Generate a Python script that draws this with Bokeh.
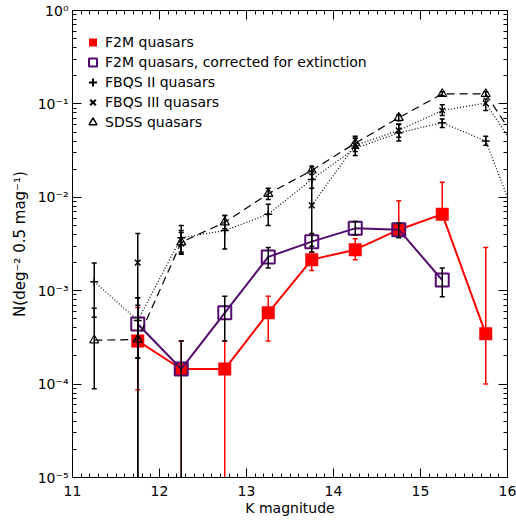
import math
from bokeh.plotting import figure
from bokeh.models import (ColumnDataSource, FixedTicker, LinearAxis, LogAxis, Legend,
                          LegendItem, CustomJSTickFormatter, Range1d)
from bokeh.embed import file_html
from bokeh.resources import INLINE

# ---------------- data ----------------
# F2M quasars (red filled squares); lo == 0 means the error bar runs to zero
f2m_k  = [11.75, 12.25, 12.75, 13.25, 13.75, 14.25, 14.75, 15.25, 15.75]
f2m_n  = [2.9e-4, 1.45e-4, 1.45e-4, 5.8e-4, 2.15e-3, 2.75e-3, 4.5e-3, 6.6e-3, 3.45e-4]
f2m_lo = [8.7e-5, 0, 0, 2.9e-4, 1.65e-3, 2.15e-3, 4.1e-3, 6.1e-3, 1.0e-4]
f2m_hi = [6.6e-4, 2.9e-4, 2.9e-4, 8.7e-4, 2.6e-3, 3.6e-3, 9.2e-3, 1.45e-2, 2.9e-3]

# F2M quasars corrected for extinction (purple open squares)
f2mc_k  = [11.75, 12.25, 12.75, 13.25, 13.75, 14.25, 14.75, 15.25]
f2mc_n  = [4.4e-4, 1.45e-4, 5.8e-4, 2.3e-3, 3.35e-3, 4.65e-3, 4.5e-3, 1.3e-3]
f2mc_lo = [1.9e-4, 0, 2.9e-4, 1.75e-3, 2.6e-3, 3.95e-3, 3.7e-3, 8.6e-4]
f2mc_hi = [8.4e-4, 2.9e-4, 8.7e-4, 2.9e-3, 4.1e-3, 5.5e-3, 5.3e-3, 1.75e-3]

# FBQS II quasars (+, dotted)
fb2_k  = [11.25, 11.75, 12.25, 12.75, 13.25, 13.75, 14.25, 14.75, 15.25, 15.75, 16.25]
fb2_n  = [1.25e-3, 4.8e-4, 3.7e-3, 4.4e-3, 6.6e-3, 1.55e-2, 3.35e-2, 4.9e-2, 6.3e-2, 4.0e-2, 2.5e-3]
fb2_lo = [5.2e-4, 1.9e-4, 2.5e-3, 2.8e-3, 5.0e-3, 1.25e-2, 2.8e-2, 4.0e-2, 5.6e-2, 3.6e-2, 2.0e-3]
fb2_hi = [1.98e-3, 8.4e-4, 5.0e-3, 6.4e-3, 8.4e-3, 1.9e-2, 4.5e-2, 6.1e-2, 6.9e-2, 4.5e-2, 3.0e-3]

# FBQS III quasars (x, dotted); the dotted line only joins the bins from 13.75 on
fb3_k  = [11.75, 12.25, 13.75, 14.25, 14.75, 15.25, 15.75, 16.25]
fb3_n  = [2.0e-3, 3.2e-3, 8.2e-3, 3.6e-2, 5.2e-2, 8.5e-2, 1.02e-1, 2.0e-2]
fb3_lo = [0, 2.6e-3, 3.0e-3, 3.1e-2, 4.4e-2, 7.5e-2, 8.5e-2, 1.6e-2]
fb3_hi = [4.1e-3, 4.2e-3, 1.9e-2, 4.3e-2, 6.0e-2, 9.8e-2, 1.13e-1, 2.4e-2]
fb3_line_from = 13.75

# SDSS quasars (open triangles, dashed)
sdss_k  = [11.25, 11.75, 12.25, 12.75, 13.25, 13.75, 14.25, 14.75, 15.25, 15.75, 16.25]
sdss_n  = [2.95e-4, 3.0e-4, 3.3e-3, 5.4e-3, 1.09e-2, 1.94e-2, 3.8e-2, 7.1e-2, 1.28e-1, 1.28e-1, 2.5e-2]
sdss_lo = [8.9e-5, 0, 2.45e-3, 4.6e-3, 9.5e-3, 1.75e-2, 3.5e-2, 6.6e-2, 1.22e-1, 1.2e-1, 2.2e-2]
sdss_hi = [6.5e-4, 7.0e-4, 4.4e-3, 6.4e-3, 1.25e-2, 2.15e-2, 4.3e-2, 7.6e-2, 1.35e-1, 1.35e-1, 2.8e-2]

x_ticks = [11, 12, 13, 14, 15, 16]
y_decades = [-5, -4, -3, -2, -1, 0]

RED = "#ff0000"
PURPLE = "#520a6e"
FONT = "DejaVu Sans"
ZERO = 1e-12  # stand-in for an error bar that runs down to zero on a log axis

p = figure(width=516, height=521, x_range=Range1d(11, 16), y_range=Range1d(1e-5, 1),
           y_axis_type="log", output_backend="svg", toolbar_location=None,
           min_border_left=72, min_border_right=9, min_border_top=10, min_border_bottom=44,
           background_fill_color="white", border_fill_color="white")
p.xgrid.visible = False
p.ygrid.visible = False
p.outline_line_color = "black"
p.outline_line_width = 1

bottom = p.below[0]
left = p.left[0]

# ---------------- axes ----------------
xt = FixedTicker(ticks=x_ticks,
                 minor_ticks=[round(11 + i * 0.1, 2) for i in range(51)])
yt = FixedTicker(ticks=[10.0 ** d for d in y_decades],
                 minor_ticks=[m * 10.0 ** d for d in y_decades[:-1] for m in range(2, 10)])
sup_fmt = CustomJSTickFormatter(code="""
const s = {'-':'\u207b','0':'\u2070','1':'\u00b9','2':'\u00b2','3':'\u00b3','4':'\u2074','5':'\u2075'};
const e = String(Math.round(Math.log10(tick)));
return '10' + e.split('').map(c => s[c]).join('');
""")
blank_fmt = CustomJSTickFormatter(code="return '';")

top = LinearAxis(ticker=xt, formatter=blank_fmt)
right = LogAxis(ticker=yt, formatter=blank_fmt)
p.add_layout(top, "above")
p.add_layout(right, "right")

bottom.ticker = xt
left.ticker = yt
left.formatter = sup_fmt

for ax in [bottom, left, top, right]:
    ax.axis_line_color = "black"
    ax.axis_line_width = 1
    ax.major_tick_in = 9
    ax.major_tick_out = 0
    ax.minor_tick_in = 4
    ax.minor_tick_out = 0
    ax.major_tick_line_color = "black"
    ax.minor_tick_line_color = "black"
    ax.major_label_text_font = FONT
    ax.major_label_text_font_size = "14px"
    ax.major_label_text_color = "black"
    ax.axis_label_text_font = FONT
    ax.axis_label_text_font_size = "14px"
    ax.axis_label_text_font_style = "normal"
    ax.axis_label_text_color = "black"
for ax in [top, right]:
    ax.major_label_standoff = 0

bottom.axis_label = "K magnitude"
bottom.major_label_standoff = 8
bottom.axis_label_standoff = 1
left.axis_label = "N(deg\u207b\u00b2 0.5 mag\u207b\u00b9)"
left.axis_label_text_font_size = "15px"
left.major_label_standoff = 4
left.axis_label_standoff = 6


def errbars(k, lo, hi, color, width, cap):
    lo_draw = [v if v > 0 else ZERO for v in lo]
    p.segment(x0=k, y0=lo_draw, x1=k, y1=hi, line_color=color, line_width=width)
    p.scatter(x=k, y=hi, marker="dash", size=cap, line_color=color, line_width=width)
    klo = [kk for kk, v in zip(k, lo) if v > 0]
    vlo = [v for v in lo if v > 0]
    p.scatter(x=klo, y=vlo, marker="dash", size=cap, line_color=color, line_width=width)


# ---------------- F2M (red) ----------------
p.line(f2m_k, f2m_n, line_color=RED, line_width=2)
errbars(f2m_k, f2m_lo, f2m_hi, RED, 1.5, 5)
p.scatter(f2m_k, f2m_n, marker="square", size=13, fill_color=RED, line_color=RED, line_width=0)

# ---------------- F2M corrected (purple) ----------------
p.line(f2mc_k, f2mc_n, line_color=PURPLE, line_width=2)
p.scatter(f2mc_k, f2mc_n, marker="square", size=13, fill_alpha=0, line_color=PURPLE, line_width=2)
errbars(f2mc_k, f2mc_lo, f2mc_hi, "black", 1.5, 5)

# ---------------- FBQS II ----------------
p.line(fb2_k, fb2_n, line_color="black", line_width=1.2, line_dash="1 2")
errbars(fb2_k, fb2_lo, fb2_hi, "black", 1.5, 5)
p.scatter(fb2_k, fb2_n, marker="cross", size=8, line_color="black", line_width=1.5)

# ---------------- FBQS III ----------------
l3k = [k for k in fb3_k if k >= fb3_line_from]
l3n = [n for k, n in zip(fb3_k, fb3_n) if k >= fb3_line_from]
p.line(l3k, l3n, line_color="black", line_width=1.2, line_dash="1 2")
errbars(fb3_k, fb3_lo, fb3_hi, "black", 1.5, 5)
p.scatter(fb3_k, fb3_n, marker="x", size=8, line_color="black", line_width=1.5)

# ---------------- SDSS ----------------
p.line(sdss_k, sdss_n, line_color="black", line_width=1.2, line_dash="8 5")
errbars(sdss_k, sdss_lo, sdss_hi, "black", 1.5, 5)
p.scatter(sdss_k, sdss_n, marker="triangle", size=9, fill_alpha=0, line_color="black", line_width=1.2)

# ---------------- legend (key glyphs only, one off-screen NaN point each) ----------------
nan_pt = dict(x=[float("nan")], y=[float("nan")])
g1 = p.scatter("x", "y", source=ColumnDataSource(nan_pt), marker="square",
               fill_color=RED, line_color=RED, line_width=0)
g2 = p.scatter("x", "y", source=ColumnDataSource(nan_pt), marker="square",
               fill_alpha=0, line_color=PURPLE, line_width=2)
g3 = p.scatter("x", "y", source=ColumnDataSource(nan_pt), marker="cross",
               line_color="black", line_width=2)
g4 = p.scatter("x", "y", source=ColumnDataSource(nan_pt), marker="x",
               line_color="black", line_width=2)
g5 = p.scatter("x", "y", source=ColumnDataSource(nan_pt), marker="triangle",
               fill_alpha=0, line_color="black", line_width=1.5)
legend = Legend(items=[
    LegendItem(label="F2M quasars", renderers=[g1]),
    LegendItem(label="F2M quasars, corrected for extinction", renderers=[g2]),
    LegendItem(label="FBQS II quasars", renderers=[g3]),
    LegendItem(label="FBQS III quasars", renderers=[g4]),
    LegendItem(label="SDSS quasars", renderers=[g5]),
], location=(8, 345), margin=0, padding=0, spacing=0,
    glyph_width=25, glyph_height=20, label_height=20, label_standoff=-3,
    label_text_font=FONT, label_text_font_size="14px", label_text_color="black",
    border_line_alpha=0, background_fill_alpha=0)
p.add_layout(legend, "center")

open("out.html", "w").write(file_html(p, INLINE))
